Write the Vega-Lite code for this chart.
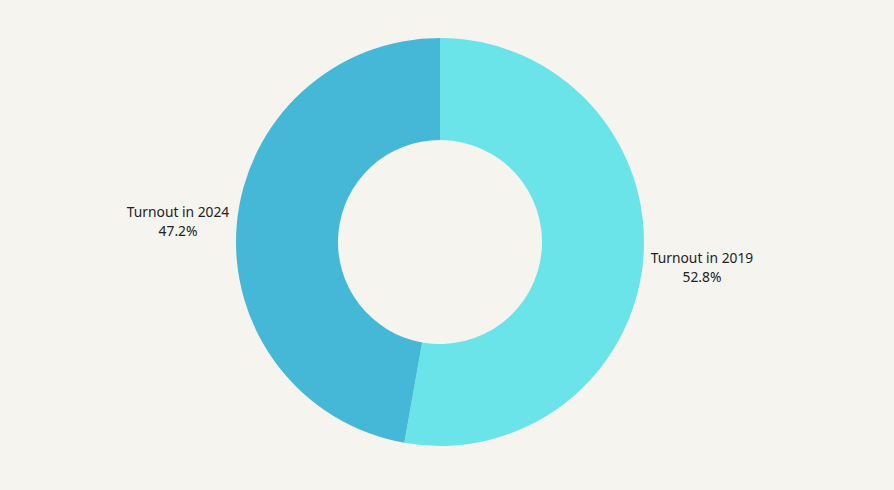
{
  "$schema": "https://vega.github.io/schema/vega-lite/v6.json",
  "width": 894,
  "height": 490,
  "autosize": {"type": "fit", "contains": "padding"},
  "padding": {"left": 0, "right": 14, "top": 0, "bottom": 6},
  "background": "#f5f4ef",
  "config": {"view": {"stroke": null}, "font": "Noto Sans"},
  "data": {
    "values": [
      {"category": "Turnout in 2019", "value": 52.8, "label": "Turnout in 2019\n52.8%", "ord": 1},
      {"category": "Turnout in 2024", "value": 47.2, "label": "Turnout in 2024\n47.2%", "ord": 2}
    ]
  },
  "encoding": {
    "theta": {"field": "value", "type": "quantitative", "stack": true},
    "order": {"field": "ord", "type": "quantitative"}
  },
  "layer": [
    {
      "mark": {"type": "arc", "outerRadius": 204, "innerRadius": 102},
      "encoding": {
        "color": {
          "field": "category",
          "type": "nominal",
          "scale": {"domain": ["Turnout in 2019", "Turnout in 2024"], "range": ["#6ae4e9", "#44b8d6"]},
          "legend": null
        }
      }
    },
    {
      "mark": {"type": "text", "radius": 263, "dy": -6, "lineBreak": "\n", "fontSize": 13.8, "color": "#222222", "align": "center", "baseline": "middle", "lineHeight": 19},
      "encoding": {"text": {"field": "label", "type": "nominal"}}
    }
  ]
}
